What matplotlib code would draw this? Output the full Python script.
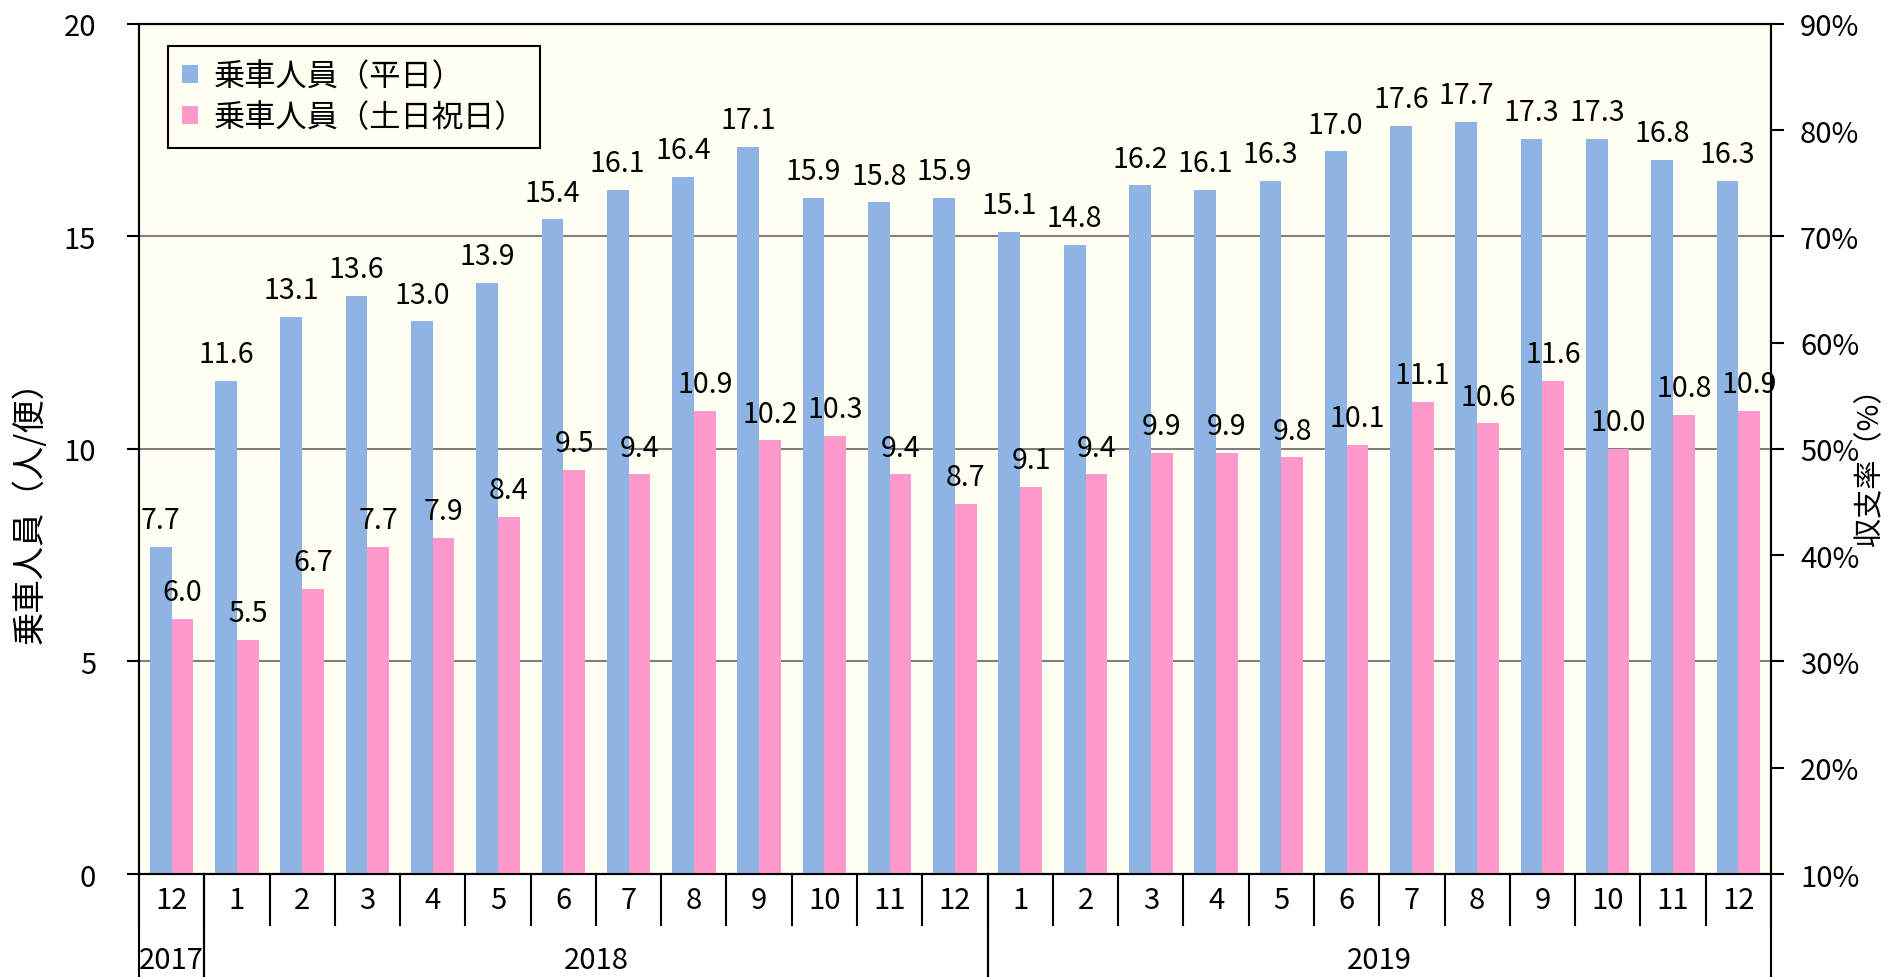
import matplotlib
matplotlib.use("Agg")
import matplotlib.pyplot as plt
import numpy as np
from matplotlib.lines import Line2D

plt.rcParams['font.family'] = ['Noto Sans CJK JP', 'DejaVu Sans']

# data
months = ["12", "1", "2", "3", "4", "5", "6", "7", "8", "9", "10", "11", "12",
          "1", "2", "3", "4", "5", "6", "7", "8", "9", "10", "11", "12"]
years = ["2017", "2018", "2019"]
year_counts = [1, 12, 12]
weekday = [7.7, 11.6, 13.1, 13.6, 13.0, 13.9, 15.4, 16.1, 16.4, 17.1, 15.9, 15.8, 15.9,
           15.1, 14.8, 16.2, 16.1, 16.3, 17.0, 17.6, 17.7, 17.3, 17.3, 16.8, 16.3]
holiday = [6.0, 5.5, 6.7, 7.7, 7.9, 8.4, 9.5, 9.4, 10.9, 10.2, 10.3, 9.4, 8.7,
           9.1, 9.4, 9.9, 9.9, 9.8, 10.1, 11.1, 10.6, 11.6, 10.0, 10.8, 10.9]
left_ticks = [0, 5, 10, 15, 20]
right_ticks = [10, 20, 30, 40, 50, 60, 70, 80, 90]

blue = "#8EB4E3"
pink = "#FF99CC"
bg = "#FFFFF3"
fs = 21

fig = plt.figure(figsize=(18.91, 9.78), dpi=100)
ax = fig.add_axes([0.0735, 0.1053, 0.8630, 0.8692])
ax.set_facecolor(bg)

n = len(months)
x = np.arange(n)
w = 1 / 3
ax.bar(x - w / 2, weekday, w, color=blue, label="乗車人員（平日）", zorder=3)
ax.bar(x + w / 2, holiday, w, color=pink, label="乗車人員（土日祝日）", zorder=3)

# data labels
for i in range(n):
    ax.text(x[i] - w / 2, weekday[i] + 0.28, f"{weekday[i]:.1f}", ha="center", va="bottom",
            fontsize=20.5, zorder=4)
    ax.text(x[i] + w / 2, holiday[i] + 0.28, f"{holiday[i]:.1f}", ha="center", va="bottom",
            fontsize=20.5, zorder=4)

ax.set_xlim(-0.5, n - 0.5)
ax.set_ylim(0, 20)
ax.set_yticks(left_ticks)
ax.tick_params(axis="y", labelsize=fs, length=9, width=1.5, pad=22, direction="out")
ax.set_xticks([])
ax.yaxis.grid(True, color="#808080", linewidth=1.5, zorder=1)
ax.set_axisbelow(True)
for s in ax.spines.values():
    s.set_linewidth(1.5)
    s.set_color("black")

# right axis (no series drawn on it)
ax2 = ax.twinx()
ax2.set_ylim(10, 90)
ax2.set_yticks(right_ticks)
ax2.set_yticklabels([f"{t}%" for t in right_ticks])
ax2.tick_params(axis="y", labelsize=fs, length=9, width=1.5, pad=12, direction="out")
for s in ax2.spines.values():
    s.set_linewidth(1.5)

fig.text(30 / 1891, 1 - 504 / 978, "乗車人員（人/便）", rotation=90, ha="center", va="center",
         fontsize=24)
fig.text(1870 / 1891, 1 - 460 / 978, "収支率（%）", rotation=90, ha="center", va="center",
         fontsize=21)

# category axis: month row and year row
trans = ax.get_xaxis_transform()
for i, m in enumerate(months):
    ax.text(x[i], -0.031, m, transform=trans, ha="center", va="center", fontsize=fs)
for b in np.arange(-0.5, n, 1.0):
    ax.add_line(Line2D([b, b], [0, -0.06], transform=trans, color="black",
                       linewidth=1.5, clip_on=False))
start = 0
for yr, cnt in zip(years, year_counts):
    ax.text(start + cnt / 2 - 0.5, -0.101, yr, transform=trans, ha="center", va="center",
            fontsize=fs)
    for b in [start - 0.5, start + cnt - 0.5]:
        ax.add_line(Line2D([b, b], [0, -0.125], transform=trans, color="black",
                           linewidth=1.5, clip_on=False))
    start += cnt

leg = ax.legend(loc="upper left", bbox_to_anchor=(0.018, 0.974), borderaxespad=0,
                fontsize=22.5, frameon=True, fancybox=False, edgecolor="black",
                facecolor=bg, framealpha=1, handlelength=0.5, handleheight=0.5,
                handletextpad=0.5, borderpad=0.45, labelspacing=0.3)
leg.get_frame().set_linewidth(1.5)
leg.set_zorder(5)

fig.savefig("out.png", dpi=100)
